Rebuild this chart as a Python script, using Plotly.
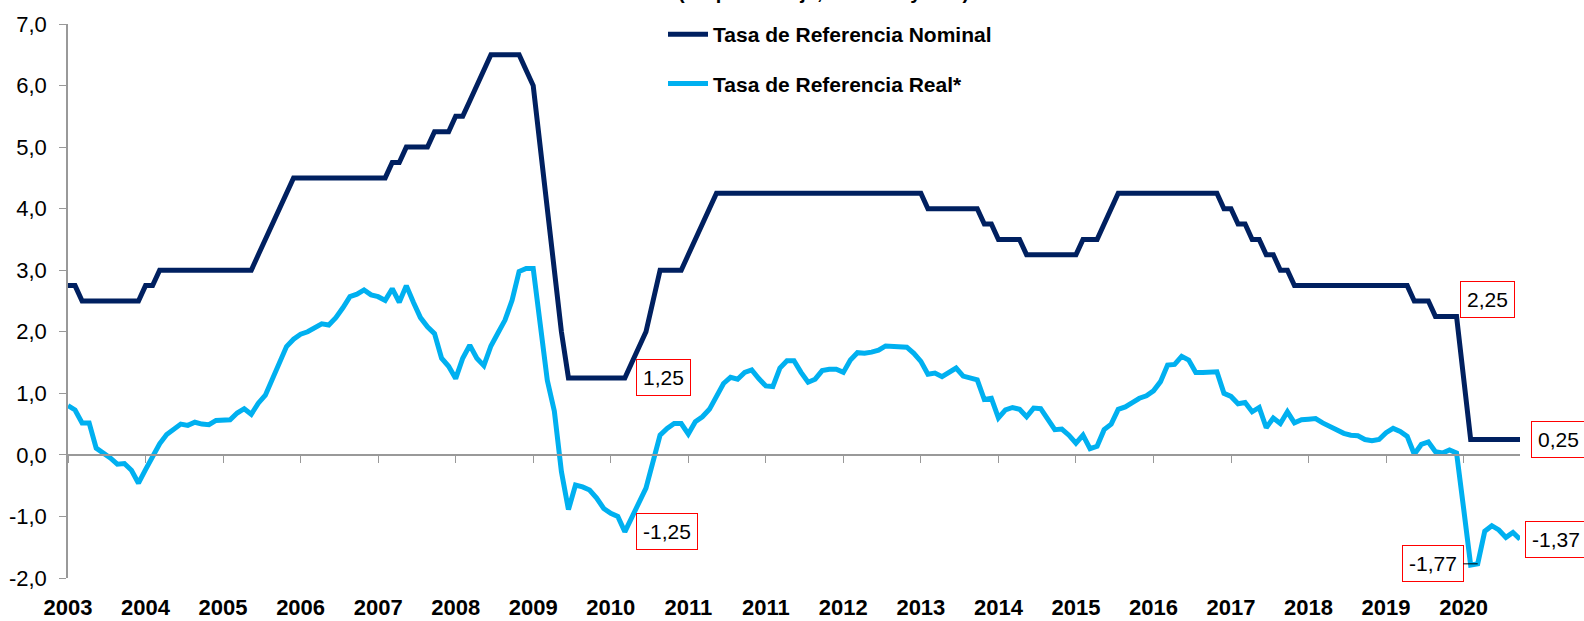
import pandas as pd
import plotly.graph_objects as go

# Monthly data, Sep-2003 .. Nov-2020
months = pd.date_range("2003-09-01", periods=207, freq="MS")

nominal = ([2.75] * 2 + [2.5] * 9 + [2.75] * 2 + [3.0] * 14 +
           [3.25, 3.5, 3.75, 4.0, 4.25] + [4.5] * 14 + [4.75] * 2 + [5.0] * 4 +
           [5.25] * 3 + [5.5] * 2 + [5.75, 6.0, 6.25] + [6.5] * 5 +
           [6.25, 6.0, 5.0, 4.0, 3.0, 2.0] + [1.25] * 9 + [1.5, 1.75, 2.0, 2.5] +
           [3.0] * 4 + [3.25, 3.5, 3.75, 4.0] + [4.25] * 30 + [4.0] * 8 +
           [3.75] * 2 + [3.5] * 4 + [3.25] * 8 + [3.5] * 3 + [3.75, 4.0] +
           [4.25] * 15 + [4.0] * 2 + [3.75] * 2 + [3.5] * 2 + [3.25] * 2 +
           [3.0] * 2 + [2.75] * 17 + [2.5] * 3 + [2.25] * 4 + [1.25] + [0.25] * 8)

real = [0.80, 0.73, 0.52, 0.52, 0.11, 0.04, -0.05, -0.15, -0.14, -0.25,
        -0.46, -0.24, -0.02, 0.18, 0.33, 0.42, 0.50, 0.48, 0.53, 0.50,
        0.49, 0.56, 0.56, 0.57, 0.68, 0.75, 0.66, 0.84, 0.97, 1.22,
        1.49, 1.76, 1.88, 1.96, 2.00, 2.07, 2.13, 2.11, 2.23, 2.39,
        2.57, 2.61, 2.68, 2.60, 2.57, 2.51, 2.70, 2.48, 2.75, 2.48,
        2.23, 2.08, 1.97, 1.57, 1.44, 1.24, 1.57, 1.78, 1.57, 1.45,
        1.77, 1.98, 2.19, 2.51, 2.98, 3.03, 3.03, 2.12, 1.21, 0.71,
        -0.27, -0.89, -0.49, -0.52, -0.57, -0.70, -0.87, -0.95, -1.00, -1.25,
        -1.00, -0.76, -0.54, -0.11, 0.32, 0.43, 0.51, 0.51, 0.34, 0.54,
        0.62, 0.74, 0.96, 1.16, 1.26, 1.23, 1.34, 1.38, 1.24, 1.12,
        1.11, 1.41, 1.53, 1.53, 1.34, 1.18, 1.23, 1.37, 1.39, 1.39,
        1.34, 1.54, 1.66, 1.65, 1.67, 1.70, 1.77, 1.77, 1.75, 1.75,
        1.65, 1.52, 1.31, 1.33, 1.27, 1.35, 1.41, 1.28, 1.24, 1.22,
        0.90, 0.92, 0.60, 0.73, 0.77, 0.74, 0.62, 0.76, 0.75, 0.58,
        0.41, 0.42, 0.32, 0.19, 0.32, 0.10, 0.14, 0.41, 0.50, 0.74,
        0.78, 0.85, 0.92, 0.96, 1.04, 1.19, 1.46, 1.47, 1.60, 1.54,
        1.34, 1.34, 1.35, 1.35, 1.00, 0.95, 0.83, 0.85, 0.70, 0.77,
        0.44, 0.60, 0.51, 0.70, 0.52, 0.57, 0.58, 0.59, 0.52, 0.46,
        0.41, 0.35, 0.32, 0.31, 0.25, 0.23, 0.25, 0.36, 0.43, 0.38,
        0.30, 0.01, 0.17, 0.21, 0.05, 0.03, 0.08, 0.03, -0.87, -1.79,
        -1.77, -1.24, -1.15, -1.22, -1.34, -1.26, -1.37]

label_step = 11
tick_idx = list(range(0, len(months), label_step))
tick_text = [str(months[i].year) for i in tick_idx]

y_ticks = [-2, -1, 0, 1, 2, 3, 4, 5, 6, 7]
y_ticktext = [f"{v:.1f}".replace(".", ",") for v in y_ticks]

# indices of highlighted values
callouts_nominal = [79, 197, 206]
callouts_real = [79, 200, 206]

x = list(range(len(months)))
NAVY = "#002060"
CYAN = "#00B0F0"
FONT = "Liberation Sans, Arial, sans-serif"
GRAY = "#999999"

fig = go.Figure()
fig.add_trace(go.Scatter(x=x, y=nominal, mode="lines", name="Tasa de Referencia Nominal",
                         line=dict(color=NAVY, width=5), legendgroup="a", xaxis="x", yaxis="y",
                         customdata=months.strftime("%b-%Y"),
                         hovertemplate="%{customdata}: %{y:.2f}<extra></extra>"))
fig.add_trace(go.Scatter(x=x, y=real, mode="lines", name="Tasa de Referencia Real*",
                         line=dict(color=CYAN, width=5), legendgroup="b", xaxis="x2", yaxis="y",
                         customdata=months.strftime("%b-%Y"),
                         hovertemplate="%{customdata}: %{y:.2f}<extra></extra>"))

def fmt(v):
    return f"{v:.2f}".replace(".", ",")

box = dict(showarrow=False, xref="x", yref="y", bordercolor="#FF0000", borderwidth=1,
           borderpad=6, bgcolor="white", font=dict(family=FONT, size=21, color="black"))

ann = []
ann.append(dict(box, x=callouts_nominal[0], y=nominal[callouts_nominal[0]], text=fmt(nominal[callouts_nominal[0]]),
                xanchor="left", yanchor="middle", xshift=11))
ann.append(dict(box, x=callouts_nominal[1], y=nominal[callouts_nominal[1]], text=fmt(nominal[callouts_nominal[1]]),
                xanchor="left", yanchor="middle", xshift=3, yshift=17))
ann.append(dict(box, x=callouts_nominal[2], y=nominal[callouts_nominal[2]], text=fmt(nominal[callouts_nominal[2]]),
                xanchor="left", yanchor="middle", xshift=11))
ann.append(dict(box, x=callouts_real[0], y=real[callouts_real[0]], text=fmt(real[callouts_real[0]]),
                xanchor="left", yanchor="middle", xshift=11))
ann.append(dict(box, x=callouts_real[1], y=real[callouts_real[1]], text=fmt(real[callouts_real[1]]),
                showarrow=True, arrowhead=0, arrowwidth=1, arrowcolor="black",
                ax=-45, ay=0, standoff=0))
ann.append(dict(box, x=callouts_real[2], y=real[callouts_real[2]], text=fmt(real[callouts_real[2]]),
                xanchor="left", yanchor="middle", xshift=5))
# chart subtitle, cut off at the top of the picture as in the source
ann.append(dict(text="(En porcentaje, nominal y real)", xref="paper", yref="paper",
                x=0.52, y=1.0345, xanchor="center", yanchor="bottom", showarrow=False,
                font=dict(family=FONT, size=20, color="black", weight="bold")))

fig.update_layout(
    width=1584, height=621,
    margin=dict(l=68, r=64, t=24, b=43, autoexpand=False),
    plot_bgcolor="white", paper_bgcolor="white",
    font=dict(family=FONT, color="black"),
    showlegend=True,
    legend=dict(xref="container", yref="container", x=663 / 1584, y=1 - 14 / 621,
                xanchor="left", yanchor="top",
                font=dict(family=FONT, size=21, color="black", weight="bold"),
                tracegroupgap=19, bgcolor="rgba(0,0,0,0)", itemwidth=40),
    annotations=ann,
    xaxis=dict(range=[0, len(months) - 1], anchor="y", side="bottom", automargin=False,
               tickvals=tick_idx, ticktext=tick_text, ticks="", showline=False,
               showgrid=False, zeroline=False, ticklabelstandoff=14,
               tickfont=dict(family=FONT, size=22, color="black", weight="bold")),
    xaxis2=dict(range=[0, len(months) - 1], overlaying="x", anchor="free", position=2 / 9,
                automargin=False, showline=True, linecolor=GRAY, linewidth=1.5,
                ticks="outside", ticklen=7, tickcolor=GRAY, tickwidth=1.2,
                tickvals=tick_idx, showticklabels=False, showgrid=False, zeroline=False),
    yaxis=dict(range=[-2, 7], tickvals=y_ticks, ticktext=y_ticktext, showline=True,
               automargin=False, linecolor=GRAY, linewidth=1.5, ticks="outside", ticklen=7,
               tickcolor=GRAY, tickwidth=1.2, showgrid=False, zeroline=False,
               ticklabelstandoff=8,
               tickfont=dict(family=FONT, size=22, color="black")),
)

fig.write_html("out.html", config={"displayModeBar": False},
               post_script="document.body.style.margin='0px';")
